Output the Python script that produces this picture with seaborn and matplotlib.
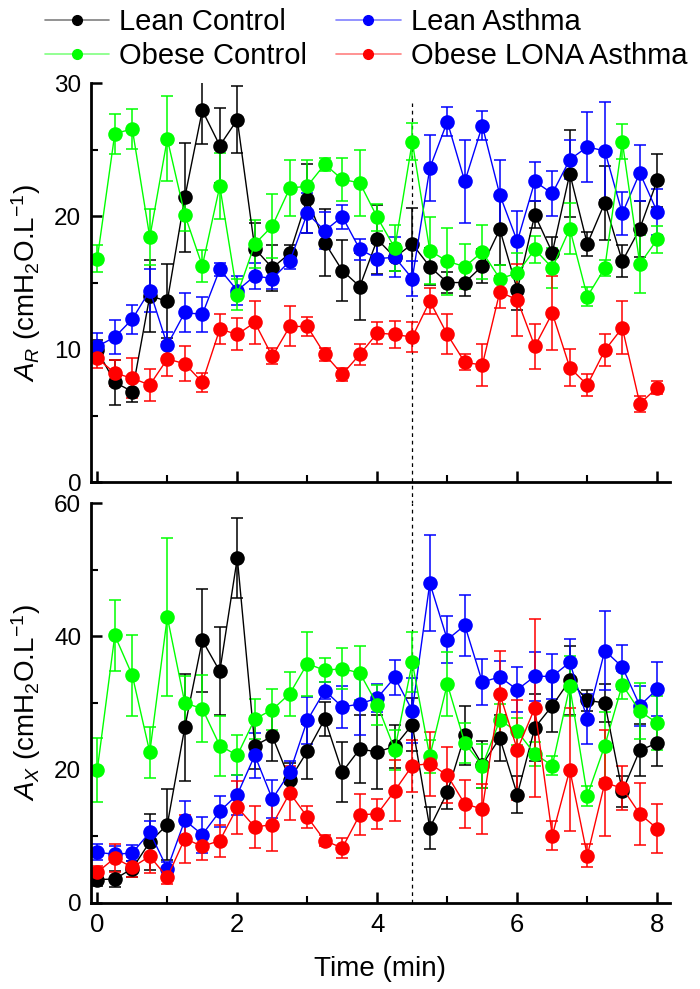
import seaborn as sns
import matplotlib.pyplot as plt
import numpy as np
import pandas as pd
from matplotlib.ticker import MultipleLocator
from matplotlib.lines import Line2D

# ---------------- datos ----------------
tiempo = [0, 0.25, 0.5, 0.75, 1, 1.25, 1.5, 1.75, 2, 2.25, 2.5, 2.75, 3, 3.25, 3.5, 3.75,
          4, 4.25, 4.5, 4.75, 5, 5.25, 5.5, 5.75, 6, 6.25, 6.5, 6.75, 7, 7.25, 7.5, 7.75, 8]

grupos = ['Lean Control', 'Lean Asthma', 'Obese Control', 'Obese LONA Asthma']
colores = ['#000000', '#0000ff', '#00ff00', '#ff0000']
colores_leyenda = ['#808080', '#8080ff', '#80ff80', '#ff8080']

# A_R (cmH2O.L-1)
ar_lean_control = [9.9, 7.5, 6.8, 14.0, 13.6, 21.4, 27.95, 25.3, 27.25, 17.55, 16.1, 17.2, 21.3, 18.0, 15.9, 14.7,
                   18.25, 16.9, 17.9, 16.2, 15.0, 15.0, 16.25, 19.0, 14.45, 20.1, 17.25, 23.2, 17.9, 21.0, 16.6, 19.05, 22.7]
ar_lean_control_err = [0.8, 1.7, 0.8, 2.7, 2.8, 4.1, 2.5, 2.8, 2.5, 1.9, 1.7, 0.6, 2.6, 2.5, 2.3, 2.5,
                       2.6, 1.0, 2.7, 1.4, 0.8, 1.0, 1.3, 2.7, 1.5, 1.0, 1.2, 3.3, 0.9, 2.8, 1.2, 2.1, 2.0]
ar_lean_asthma = [10.2, 10.9, 12.25, 14.4, 10.3, 12.75, 12.6, 16.0, 14.4, 15.5, 15.3, 16.6, 20.2, 18.9, 19.95, 17.5,
                  16.8, 16.9, 15.3, 23.6, 27.1, 22.6, 26.8, 21.6, 18.1, 22.6, 21.7, 24.25, 25.2, 24.9, 20.2, 23.25, 20.3]
ar_lean_asthma_err = [1.0, 1.3, 1.1, 1.6, 1.0, 1.5, 1.3, 0.5, 1.1, 1.0, 0.8, 0.6, 1.5, 1.4, 0.9, 0.8,
                      1.2, 1.5, 1.3, 2.5, 1.1, 3.1, 1.1, 2.6, 2.3, 1.5, 1.7, 1.5, 2.65, 3.7, 1.6, 2.1, 1.7]
ar_obese_control = [16.8, 26.2, 26.55, 18.4, 25.8, 20.1, 16.25, 22.25, 14.1, 17.9, 19.25, 22.1, 22.25, 23.9, 22.75, 22.5,
                    19.9, 17.6, 25.6, 17.4, 16.6, 16.2, 17.3, 15.3, 15.7, 17.5, 16.1, 19.05, 13.95, 16.1, 25.6, 16.4, 18.25]
ar_obese_control_err = [1.0, 1.5, 1.5, 2.1, 3.2, 1.2, 1.2, 2.5, 1.2, 1.8, 2.4, 2.1, 2.0, 0.5, 1.6, 2.5,
                        1.0, 1.7, 1.4, 2.5, 2.5, 1.7, 2.0, 1.0, 1.5, 1.0, 1.5, 1.9, 0.7, 0.6, 1.3, 2.2, 1.0]
ar_obese_lona = [9.3, 8.2, 7.8, 7.3, 9.25, 8.9, 7.5, 11.5, 11.1, 12.0, 9.45, 11.7, 11.7, 9.6, 8.1, 9.6,
                 11.2, 11.1, 10.9, 13.6, 11.1, 9.0, 8.8, 14.3, 13.7, 10.2, 12.7, 8.6, 7.3, 9.9, 11.6, 5.9, 7.1]
ar_obese_lona_err = [0.7, 1.0, 1.5, 1.2, 1.3, 1.3, 0.7, 1.1, 1.2, 1.6, 0.6, 1.5, 0.7, 0.5, 0.5, 0.8,
                     0.8, 1.0, 1.1, 1.0, 1.5, 0.6, 1.6, 1.2, 2.7, 1.7, 2.8, 1.4, 0.8, 1.2, 2.0, 0.6, 0.5]

# A_X (cmH2O.L-1)
ax_lean_control = [3.5, 3.6, 5.15, 9.15, 11.75, 26.35, 39.4, 34.75, 51.75, 23.6, 25.0, 18.5, 22.75, 27.6, 19.65, 23.1,
                   22.65, 23.5, 26.75, 11.25, 16.6, 25.15, 20.75, 24.75, 16.25, 26.3, 29.6, 33.4, 30.4, 30.0, 16.75, 22.9, 24.0]
ax_lean_control_err = [1.0, 1.2, 1.2, 4.2, 5.3, 8.0, 7.7, 6.6, 6.0, 3.5, 3.7, 2.5, 4.1, 2.6, 4.5, 5.1,
                       5.6, 3.2, 4.0, 3.1, 2.5, 4.4, 3.5, 3.5, 2.8, 5.0, 4.0, 5.2, 1.6, 2.8, 2.3, 3.9, 3.4]
ax_lean_asthma = [7.6, 7.3, 7.5, 10.6, 5.15, 12.4, 10.25, 13.75, 16.25, 22.15, 15.6, 19.6, 27.4, 31.85, 29.4, 29.85,
                  30.75, 33.85, 28.85, 48.0, 39.5, 41.65, 33.15, 33.9, 32.0, 34.0, 34.0, 36.1, 27.6, 37.85, 35.4, 29.6, 32.1]
ax_lean_asthma_err = [1.2, 1.2, 1.2, 1.7, 1.0, 2.9, 2.7, 2.3, 3.0, 3.4, 2.8, 1.7, 3.5, 1.3, 3.1, 4.6,
                      2.1, 2.6, 4.9, 7.2, 3.5, 4.6, 3.4, 2.4, 3.4, 3.7, 3.4, 3.5, 3.7, 5.9, 3.3, 3.0, 4.0]
ax_obese_control = [20.0, 40.15, 34.15, 22.6, 42.9, 30.0, 29.15, 23.6, 22.15, 27.6, 29.0, 31.4, 35.9, 34.9, 35.15, 34.5,
                    29.75, 23.0, 36.1, 22.0, 32.85, 24.0, 20.6, 27.4, 25.75, 22.35, 20.6, 32.5, 16.1, 23.6, 32.75, 28.75, 27.0]
ax_obese_control_err = [4.8, 5.3, 6.1, 3.8, 11.8, 4.0, 5.0, 4.5, 3.0, 3.0, 3.1, 3.3, 4.8, 1.8, 3.1, 4.0,
                        3.0, 3.0, 4.5, 2.5, 4.8, 3.0, 3.3, 2.5, 2.0, 1.8, 1.4, 4.5, 1.5, 5.0, 2.1, 4.2, 4.0]
ax_obese_lona = [4.6, 6.75, 5.35, 7.0, 3.85, 9.65, 8.5, 9.35, 14.35, 11.4, 11.75, 16.5, 12.9, 9.35, 8.25, 13.25,
                 13.35, 16.85, 20.6, 20.9, 19.15, 14.85, 14.1, 31.35, 23.0, 29.25, 10.1, 20.0, 7.1, 18.0, 17.25, 13.35, 11.15]
ax_obese_lona_err = [1.0, 2.1, 1.5, 2.5, 1.0, 3.6, 2.1, 2.4, 4.0, 3.2, 4.0, 4.0, 1.6, 0.8, 1.5, 3.1,
                     2.3, 4.6, 3.9, 4.8, 4.2, 3.6, 3.75, 6.5, 7.5, 13.3, 2.2, 9.2, 1.7, 8.0, 3.3, 4.7, 3.7]


def tabla(valores, errores):
    # arma un DataFrame largo: tiempo, grupo, valor, error
    filas = []
    for g, v, e in zip(grupos, valores, errores):
        for t, vi, ei in zip(tiempo, v, e):
            filas.append({'tiempo': t, 'grupo': g, 'valor': vi, 'error': ei})
    return pd.DataFrame(filas)


datosAR = tabla([ar_lean_control, ar_lean_asthma, ar_obese_control, ar_obese_lona],
                [ar_lean_control_err, ar_lean_asthma_err, ar_obese_control_err, ar_obese_lona_err])
datosAX = tabla([ax_lean_control, ax_lean_asthma, ax_obese_control, ax_obese_lona],
                [ax_lean_control_err, ax_lean_asthma_err, ax_obese_control_err, ax_obese_lona_err])

# ---------------- estilo ----------------
sns.set_theme(style='ticks')
plt.rcParams['font.family'] = ['Liberation Sans', 'DejaVu Sans']
plt.rcParams['mathtext.fontset'] = 'custom'
plt.rcParams['mathtext.rm'] = 'Liberation Sans'
plt.rcParams['mathtext.it'] = 'Liberation Sans:italic'
plt.rcParams['mathtext.default'] = 'regular'
for k in ('text.color', 'axes.labelcolor', 'xtick.color', 'ytick.color', 'axes.edgecolor'):
    plt.rcParams[k] = 'black'

fig = plt.figure(figsize=(7, 9.89), dpi=100)
ax1 = fig.add_axes([0.13, 0.5126, 0.827, 0.4034])
ax2 = fig.add_axes([0.13, 0.087, 0.827, 0.4044])


def dibujar(ax, datos):
    # barras de error por detras, lineas y marcadores con seaborn
    for g, c in zip(grupos, colores):
        sub = datos[datos['grupo'] == g]
        ax.errorbar(sub['tiempo'], sub['valor'], yerr=sub['error'], fmt='none',
                    ecolor=c, elinewidth=1.1, capsize=4.5, capthick=1.1, zorder=1.5)
    sns.lineplot(data=datos, x='tiempo', y='valor', hue='grupo', hue_order=grupos,
                 palette=colores, marker='o', markersize=10.5, markeredgewidth=0,
                 linewidth=1, errorbar=None, legend=False, ax=ax)


dibujar(ax1, datosAR)
dibujar(ax2, datosAX)

for ax in (ax1, ax2):
    ax.set_xlim(-0.09, 8.18)
    sns.despine(ax=ax)
    for s in ('left', 'bottom'):
        ax.spines[s].set_linewidth(2)
    ax.xaxis.set_major_locator(MultipleLocator(2))
    ax.xaxis.set_minor_locator(MultipleLocator(1))
    ax.tick_params(which='major', direction='in', length=8, width=1.8, labelsize=18.5, pad=7)
    ax.tick_params(axis='y', which='major', labelsize=17.5)
    ax.tick_params(which='minor', direction='in', length=5, width=1.5)
    ax.set_xlabel('')

ax1.set_ylim(0, 30)
ax1.yaxis.set_major_locator(MultipleLocator(10))
ax1.yaxis.set_minor_locator(MultipleLocator(5))
ax1.tick_params(axis='x', labelbottom=False)
ax1.set_ylabel(r'$\mathit{A_R}$ (cmH$_2$O.L$^{-1}$)', fontsize=20, labelpad=8)

ax2.set_ylim(0, 60)
ax2.yaxis.set_major_locator(MultipleLocator(20))
ax2.yaxis.set_minor_locator(MultipleLocator(10))
ax2.set_ylabel(r'$\mathit{A_X}$ (cmH$_2$O.L$^{-1}$)', fontsize=20, labelpad=8)
ax2.set_xlabel('Time (min)', fontsize=20, labelpad=14)

# linea punteada en t = 4.5 min que cruza ambos paneles
ax1.axvline(4.5, ymin=-0.055, ymax=0.95, color='black', lw=0.9, ls=(0, (3, 3)), clip_on=False, zorder=1)
ax2.axvline(4.5, ymin=0, ymax=1, color='black', lw=0.9, ls=(0, (3, 3)), zorder=1)

# leyenda en dos filas: matplotlib llena por columnas, asi que se reordena
orden = [0, 2, 1, 3]
manijas = [Line2D([], [], color=colores_leyenda[i], marker='o', markersize=7,
                  markerfacecolor=colores[i], markeredgecolor=colores[i], lw=1.2) for i in orden]
fig.legend(manijas, [grupos[i] for i in orden], loc='upper left', bbox_to_anchor=(0.064, 0.992), ncol=2,
           frameon=False, fontsize=21, borderpad=0, borderaxespad=0, handlelength=2.2,
           handletextpad=0.35, columnspacing=1.0, labelspacing=0.22)

fig.savefig('out.png', dpi=100)
